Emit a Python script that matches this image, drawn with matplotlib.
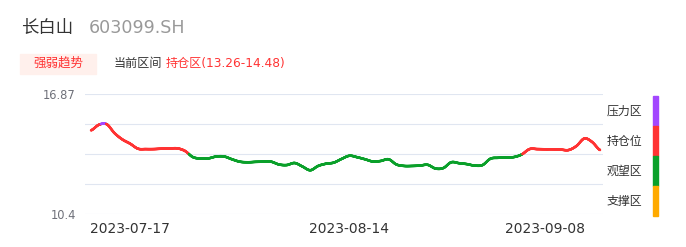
import numpy as np
import matplotlib
matplotlib.use("Agg")
from matplotlib import pyplot as plt
import matplotlib.dates as mdates
from matplotlib.collections import LineCollection
from matplotlib.patches import Rectangle

plt.rcParams['font.family'] = ['DejaVu Sans', 'Noto Sans CJK SC']

# daily values, 2023-07-12 .. 2023-09-15
start_date = "2023-07-12"
values = [14.91, 15.21, 15.24, 14.76, 14.42, 14.19, 13.92, 13.90, 13.90, 13.92,
          13.93, 13.94, 13.80, 13.47, 13.39, 13.40, 13.50, 13.50, 13.35, 13.22,
          13.19, 13.21, 13.22, 13.22, 13.07, 13.04, 13.15, 12.96, 12.76, 12.99,
          13.11, 13.17, 13.37, 13.54, 13.46, 13.35, 13.23, 13.26, 13.35, 13.07,
          12.99, 12.99, 13.01, 13.05, 12.85, 12.88, 13.19, 13.14, 13.09, 13.01,
          13.04, 13.38, 13.43, 13.45, 13.47, 13.61, 13.90, 13.90, 13.89, 13.89,
          13.87, 13.85, 14.07, 14.47, 14.28, 13.85]
dates = np.arange(np.datetime64(start_date), np.datetime64(start_date) + len(values))

y_min, y_max = 10.4, 16.87
y_labels = ["10.4", "", "", "", "16.87"]
x_tick_dates = ["2023-07-17", "2023-08-14", "2023-09-08"]

zone_names = ["压力区", "持仓位", "观望区", "支撑区"]
zone_colors = ["#a347ff", "#ff3333", "#0aa02a", "#ffaa00"]

W, H = 686, 247
fig = plt.figure(figsize=(W / 100, H / 100), dpi=100)

def fx(x):
    return x / W

def fy(y):
    return 1 - y / H

ax = fig.add_axes([fx(85), fy(214), fx(603) - fx(85), fy(94) - fy(214)])

levels = np.linspace(y_min, y_max, 5)
xnum = mdates.date2num(dates.astype('datetime64[D]').astype(object))
v = np.array(values)

# smooth drawing path (catmull-rom through the data points)
n_sub = 30
sx, sy = [], []
for i in range(len(v) - 1):
    p0 = v[max(i - 1, 0)]
    p1 = v[i]
    p2 = v[i + 1]
    p3 = v[min(i + 2, len(v) - 1)]
    t = np.linspace(0, 1, n_sub, endpoint=False)
    yy = 0.5 * (2 * p1 + (-p0 + p2) * t + (2 * p0 - 5 * p1 + 4 * p2 - p3) * t ** 2
                + (-p0 + 3 * p1 - 3 * p2 + p3) * t ** 3)
    sx.extend(xnum[i] + t * (xnum[i + 1] - xnum[i]))
    sy.extend(yy)
sx.append(xnum[-1])
sy.append(v[-1])
sx = np.array(sx)
sy = np.array(sy)

pts = np.column_stack([sx, sy]).reshape(-1, 1, 2)
segs = np.concatenate([pts[:-1], pts[1:]], axis=1)
mid = (sy[:-1] + sy[1:]) / 2
seg_colors = []
for m in mid:
    if m > levels[3]:
        seg_colors.append(zone_colors[0])
    elif m > levels[2]:
        seg_colors.append(zone_colors[1])
    elif m > levels[1]:
        seg_colors.append(zone_colors[2])
    else:
        seg_colors.append(zone_colors[3])
lc = LineCollection(segs, colors=seg_colors, linewidths=1.8, capstyle='round', joinstyle='round')
ax.add_collection(lc)

ax.set_xlim(xnum[0] - 0.77, xnum[-1] + 0.38)
ax.set_ylim(y_min, y_max)
ax.set_yticks(levels)
ax.set_yticklabels(y_labels)
ax.set_xticks(mdates.date2num(np.array(x_tick_dates, dtype='datetime64[D]').astype(object)))
ax.xaxis.set_major_formatter(mdates.DateFormatter('%Y-%m-%d'))
ax.grid(axis='y', color='#e0e6f1', linewidth=0.8)
ax.set_axisbelow(True)
for s in ax.spines.values():
    s.set_visible(False)
ax.tick_params(axis='x', length=0, pad=6, labelsize=10, labelcolor='#333333')
ax.tick_params(axis='y', length=0, pad=6.5, labelsize=8.3, labelcolor='#6e7079')

# header
fig.text(fx(21), fy(28), "长白山", fontsize=12.5, color='#333333', va='center', ha='left')
fig.text(fx(89), fy(28), "603099.SH", fontsize=12.6, color='#999999', va='center', ha='left')
fig.patches.append(Rectangle((fx(20), fy(73.7)), fx(96) - fx(20), fy(53.7) - fy(73.7),
                             transform=fig.transFigure, color='#fff0ec', zorder=0))
fig.text(fx(58), fy(63), "强弱趋势", fontsize=9, color='#ff3333', va='center', ha='center')
fig.text(fx(114), fy(63), "当前区间", fontsize=8.7, color='#333333', va='center', ha='left')
fig.text(fx(165.5), fy(63), "持仓区(13.26-14.48)", fontsize=8.7, color='#ff3333', va='center', ha='left')

# zone legend on the right
for i, (name, c) in enumerate(zip(zone_names, zone_colors)):
    top = 96 + i * 30
    fig.patches.append(Rectangle((fx(653.3), fy(top + 30)), fx(4.4), fy(top) - fy(top + 30),
                                 transform=fig.transFigure, color=c))
    fig.text(fx(624.5), fy(top + 15.5), name, fontsize=8.6, color='#333333', va='center', ha='center')

fig.savefig("out.png", dpi=100)
